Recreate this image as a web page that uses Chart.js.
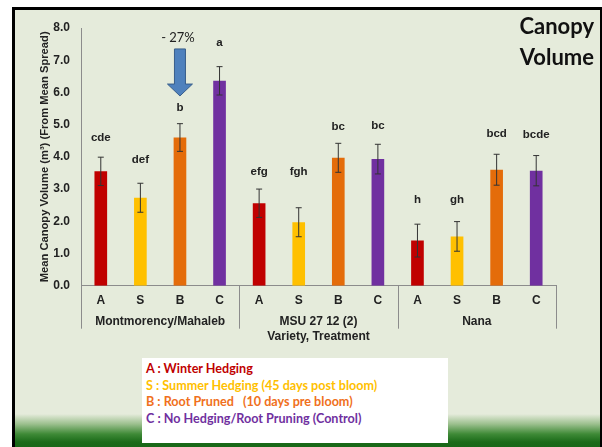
<!DOCTYPE html>
<html>
<head>
<meta charset="utf-8">
<script src="https://cdn.jsdelivr.net/npm/chart.js@4.4.0/dist/chart.umd.min.js"></script>
<style>
  body { margin: 0; background: #fff; width: 602px; height: 447px; overflow: hidden; position: relative; }
  #frame {
    position: absolute; left: 12px; top: 7px; width: 585px; height: 440px;
    border-left: 3px solid #000; border-top: 3px solid #000; border-right: 2px solid #000;
    background: linear-gradient(to bottom, #e5ebdb 0px, #e5ebdb 404px, #9cc08e 414px, #3f8a37 424px, #1b6b19 432px, #176416 440px);
  }
  #chart { position: absolute; left: 0; top: 0; }
  #title {
    position: absolute; right: 8px; top: 10px; text-align: right;
    font: bold 22px Lato, "Open Sans", sans-serif; line-height: 31px; color: #111;
  }
  #legendBox {
    position: absolute; left: 142px; top: 358px; width: 306px; height: 85px;
    background: #fff; font: bold 12.6px Lato, "Open Sans", sans-serif; line-height: 16.6px;
    padding: 3px 0 0 4px; box-sizing: border-box;
  }
</style>
</head>
<body>
<div id="frame"></div>
<canvas id="chart" width="602" height="447"></canvas>
<div id="title">Canopy<br>Volume</div>
<div id="legendBox">
  <div style="color:#c00000">A : Winter Hedging</div>
  <div style="color:#ffc000">S : Summer Hedging (45 days post bloom)</div>
  <div style="color:#f07020">B : Root Pruned &nbsp;&nbsp;(10 days pre bloom)</div>
  <div style="color:#7030a0">C : No Hedging/Root Pruning (Control)</div>
</div>
<script>
const varieties = ['Montmorency/Mahaleb', 'MSU 27 12 (2)', 'Nana'];
const treatments = ['A', 'S', 'B', 'C'];
const treatmentColors = ['#c00000', '#ffc000', '#e46c0a', '#7030a0'];
// mean canopy volume, 4 treatments per variety
const meanVolume = [3.55, 2.73, 4.60, 6.36, 2.56, 1.97, 3.97, 3.93, 1.40, 1.53, 3.60, 3.57];
const stdErr = [0.44, 0.45, 0.43, 0.44, 0.44, 0.45, 0.45, 0.46, 0.51, 0.46, 0.48, 0.47];
const letters = ['cde', 'def', 'b', 'a', 'efg', 'fgh', 'bc', 'bc', 'h', 'gh', 'bcd', 'bcde'];
const letterLevel = [4.59, 3.90, 5.52, 7.54, 3.53, 3.53, 4.93, 4.96, 2.66, 2.66, 4.71, 4.68];
const yTicks = [0, 1, 2, 3, 4, 5, 6, 7, 8];

const labels = [];
const colors = [];
varieties.forEach(() => {
  treatments.forEach((t, j) => {
    labels.push(t);
    colors.push(treatmentColors[j]);
  });
});

const axisFont = { family: '"Liberation Sans", Arial', size: 12, weight: 'bold' };

const extras = {
  id: 'extras',
  afterDatasetsDraw(chart) {
    const ctx = chart.ctx;
    const x = chart.scales.x;
    const y = chart.scales.y;
    const bars = chart.getDatasetMeta(0).data;
    ctx.save();
    // error bars
    ctx.strokeStyle = '#333';
    ctx.lineWidth = 1;
    bars.forEach((bar, i) => {
      const top = y.getPixelForValue(meanVolume[i] + stdErr[i]);
      const bot = y.getPixelForValue(meanVolume[i] - stdErr[i]);
      ctx.beginPath();
      ctx.moveTo(bar.x, top); ctx.lineTo(bar.x, bot);
      ctx.moveTo(bar.x - 3, top); ctx.lineTo(bar.x + 3, top);
      ctx.moveTo(bar.x - 3, bot); ctx.lineTo(bar.x + 3, bot);
      ctx.stroke();
    });
    // significance letters
    ctx.fillStyle = '#222';
    ctx.font = 'bold 11.5px "Liberation Sans", Arial, sans-serif';
    ctx.textAlign = 'center';
    ctx.textBaseline = 'middle';
    bars.forEach((bar, i) => {
      ctx.fillText(letters[i], bar.x, y.getPixelForValue(letterLevel[i]));
    });
    // group dividers and labels
    const groupW = (x.right - x.left) / varieties.length;
    ctx.strokeStyle = '#8c8c8c';
    ctx.beginPath();
    for (let k = 0; k <= varieties.length; k++) {
      const gx = Math.round(x.left + k * groupW) + 0.5;
      ctx.moveTo(gx, y.bottom);
      ctx.lineTo(gx, y.bottom + 43);
    }
    ctx.stroke();
    ctx.font = 'bold 12px "Liberation Sans", Arial, sans-serif';
    varieties.forEach((v, k) => {
      ctx.fillText(v, x.left + (k + 0.5) * groupW, y.bottom + 36);
    });
    // arrow over root pruned bar
    const ax = bars[2].x;
    const yShaft = y.getPixelForValue(7.35);
    const yHead = y.getPixelForValue(6.26);
    const yTip = y.getPixelForValue(5.89);
    ctx.beginPath();
    ctx.moveTo(ax - 5.5, yShaft);
    ctx.lineTo(ax + 5.5, yShaft);
    ctx.lineTo(ax + 5.5, yHead);
    ctx.lineTo(ax + 12.5, yHead);
    ctx.lineTo(ax, yTip);
    ctx.lineTo(ax - 12.5, yHead);
    ctx.lineTo(ax - 5.5, yHead);
    ctx.closePath();
    ctx.fillStyle = '#4f81bd';
    ctx.fill();
    ctx.strokeStyle = '#385d8a';
    ctx.stroke();
    ctx.fillStyle = '#222';
    ctx.font = '13px Lato, "Open Sans", sans-serif';
    ctx.fillText('- 27%', ax - 2, y.getPixelForValue(7.7));
    ctx.restore();
  }
};

new Chart(document.getElementById('chart'), {
  type: 'bar',
  data: {
    labels: labels,
    datasets: [{
      data: meanVolume,
      backgroundColor: colors,
      borderWidth: 0,
      barPercentage: 0.32,
      categoryPercentage: 1
    }]
  },
  options: {
    responsive: false,
    devicePixelRatio: 1,
    animation: false,
    layout: { padding: { left: 34, right: 46, top: 28, bottom: 0 } },
    plugins: { legend: { display: false }, tooltip: { enabled: false } },
    scales: {
      x: {
        grid: { display: false },
        border: { display: true, color: '#8c8c8c' },
        ticks: { color: '#222', font: axisFont, padding: 0, maxRotation: 0, autoSkip: false },
        title: {
          display: true, text: 'Variety, Treatment', color: '#222',
          font: axisFont,
          padding: { top: 0, bottom: 103 }
        },
        afterFit(scale) { scale.height = 161.3; }
      },
      y: {
        min: 0, max: 8,
        afterBuildTicks(scale) { scale.ticks = yTicks.map(v => ({ value: v })); },
        grid: { display: false },
        border: { display: true, color: '#8c8c8c' },
        ticks: {
          color: '#222', padding: 3,
          font: axisFont,
          callback: v => v.toFixed(1)
        },
        title: {
          display: true, text: 'Mean Canopy Volume (m\u00b3) (From Mean Spread)', color: '#222',
          font: { family: '"Liberation Sans", Arial', size: 11.2, weight: 'bold' },
          padding: { top: 4, bottom: 0 }
        },
        afterFit(scale) { scale.width = 47; }
      }
    }
  },
  plugins: [extras]
});
</script>
</body>
</html>
